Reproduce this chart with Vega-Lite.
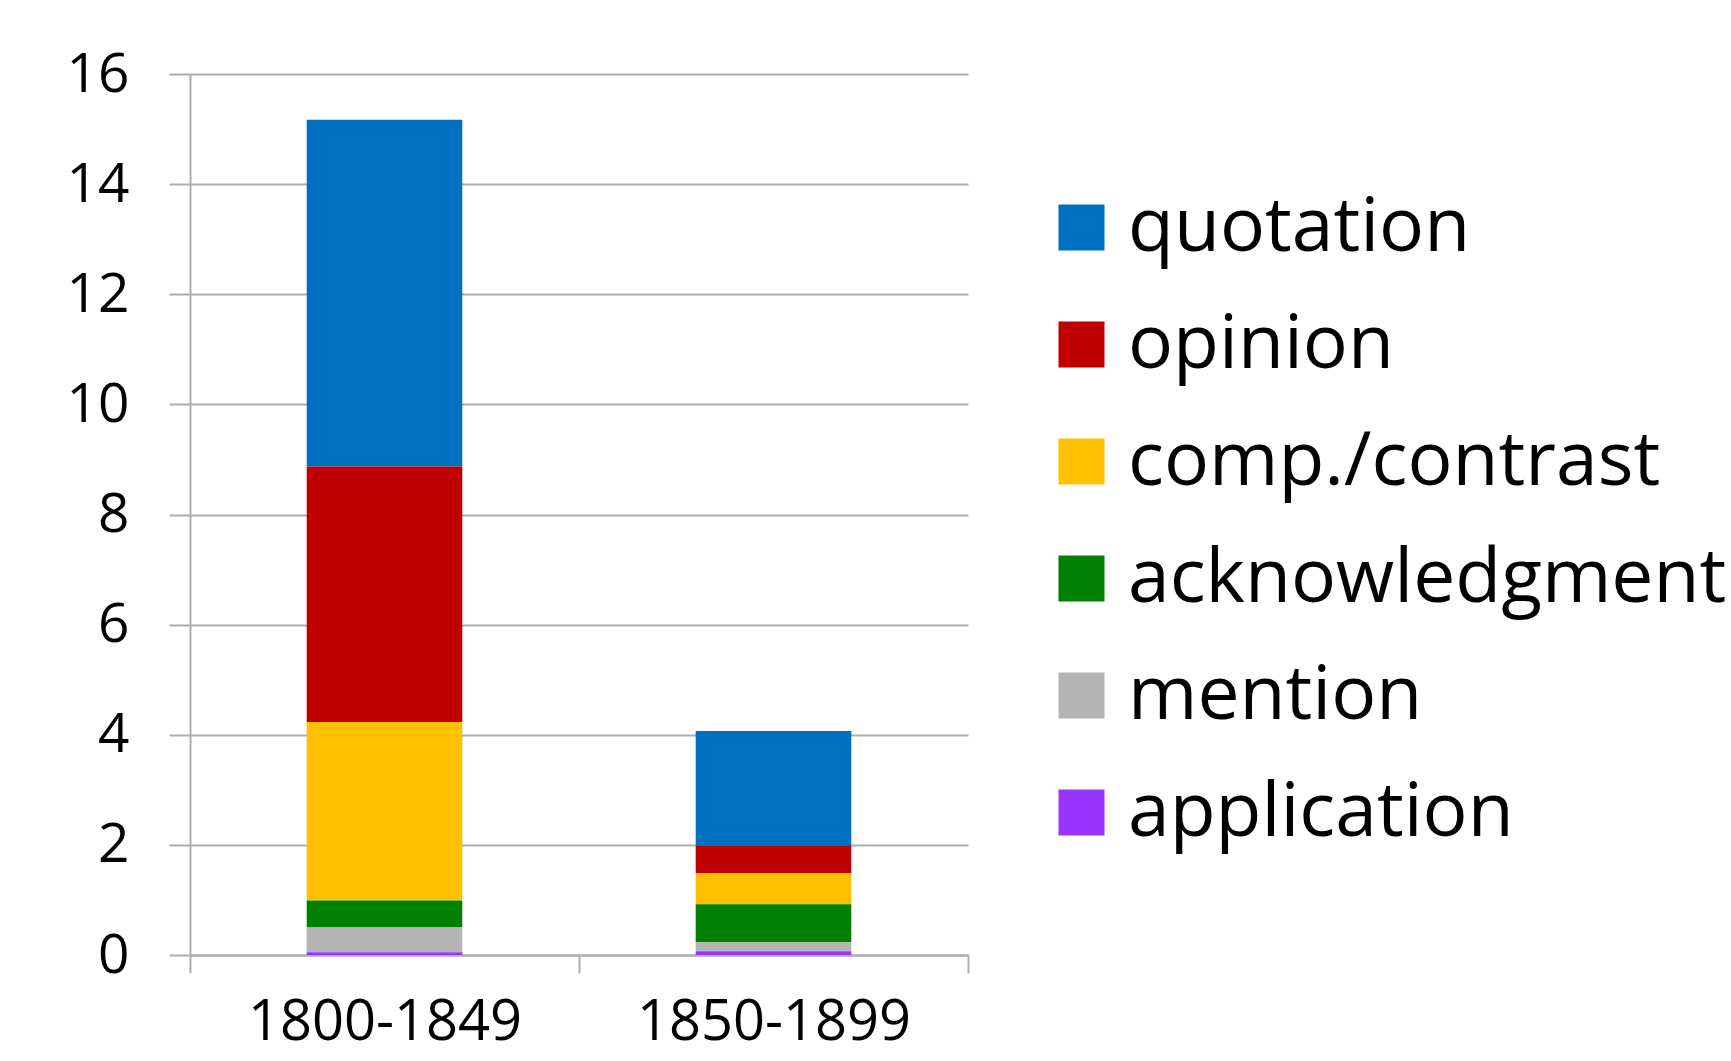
{
  "$schema": "https://vega.github.io/schema/vega-lite/v6.json",
  "autosize": {"type": "none"},
  "padding": {"left": 190, "top": 74, "right": 763, "bottom": 106},
  "width": 778,
  "height": 881,
  "background": "white",
  "data": {
    "values": [
      {"period": "1800-1849", "type": "quotation", "k": 1, "value": 6.3},
      {"period": "1800-1849", "type": "opinion", "k": 2, "value": 4.64},
      {"period": "1800-1849", "type": "comp./contrast", "k": 3, "value": 3.24},
      {"period": "1800-1849", "type": "acknowledgment", "k": 4, "value": 0.49},
      {"period": "1800-1849", "type": "mention", "k": 5, "value": 0.45},
      {"period": "1800-1849", "type": "application", "k": 6, "value": 0.05},
      {"period": "1850-1899", "type": "quotation", "k": 1, "value": 2.09},
      {"period": "1850-1899", "type": "opinion", "k": 2, "value": 0.49},
      {"period": "1850-1899", "type": "comp./contrast", "k": 3, "value": 0.57},
      {"period": "1850-1899", "type": "acknowledgment", "k": 4, "value": 0.69},
      {"period": "1850-1899", "type": "mention", "k": 5, "value": 0.16},
      {"period": "1850-1899", "type": "application", "k": 6, "value": 0.07}
    ]
  },
  "config": {
    "view": {"stroke": null},
    "font": "Open Sans"
  },
  "mark": {"type": "bar", "width": {"band": 0.4}},
  "encoding": {
    "x": {
      "field": "period",
      "type": "nominal",
      "scale": {"paddingInner": 0, "paddingOuter": 0},
      "axis": {
        "title": null,
        "labelAngle": 0,
        "labelFontSize": 56,
        "labelColor": "black",
        "labelPadding": 22,
        "labelLimit": 600,
        "tickBand": "extent",
        "tickSize": 18,
        "tickColor": "#ADADAD",
        "tickWidth": 2,
        "domainColor": "#ADADAD",
        "domainWidth": 2,
        "grid": false
      }
    },
    "y": {
      "field": "value",
      "type": "quantitative",
      "aggregate": "sum",
      "stack": "zero",
      "scale": {"domain": [0, 16], "nice": false},
      "axis": {
        "title": null,
        "values": [0, 2, 4, 6, 8, 10, 12, 14, 16],
        "labelFontSize": 55,
        "labelColor": "black",
        "labelPadding": 40,
        "tickSize": 21,
        "tickColor": "#ADADAD",
        "tickWidth": 2,
        "grid": true,
        "gridColor": "#ADADAD",
        "gridWidth": 2,
        "domainColor": "#ADADAD",
        "domainWidth": 2
      }
    },
    "order": {"field": "k", "sort": "descending"},
    "color": {
      "field": "type",
      "type": "nominal",
      "scale": {
        "domain": ["quotation", "opinion", "comp./contrast", "acknowledgment", "mention", "application"],
        "range": ["#0070C0", "#C00000", "#FFC000", "#008000", "#B4B4B4", "#9933FF"]
      },
      "legend": {
        "title": null,
        "orient": "none",
        "legendX": 854,
        "legendY": 116,
        "padding": 0,
        "symbolType": "square",
        "symbolSize": 2116,
        "symbolStrokeWidth": 0,
        "labelFontSize": 75,
        "labelColor": "black",
        "labelOffset": 9,
        "rowPadding": 41,
        "labelLimit": 800
      }
    }
  }
}
